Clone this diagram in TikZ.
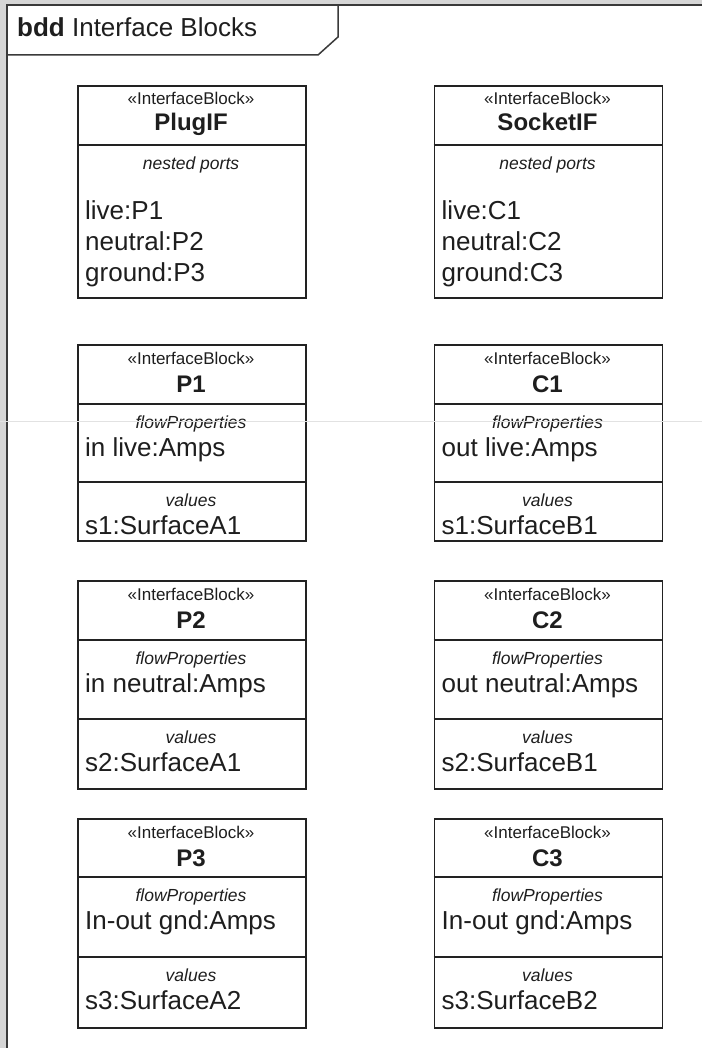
\documentclass[tikz,border=0pt]{standalone}
\usepackage{fontspec}
\setmainfont{Liberation Sans}
\definecolor{bandc}{HTML}{D6D6D6}
\definecolor{linec}{HTML}{222222}
\definecolor{framec}{HTML}{3A3A3A}
\definecolor{txtc}{HTML}{1E1E1E}
\definecolor{artc}{HTML}{E2E2E2}
\tikzset{
  blk/.style={draw=linec, line width=1.6pt, fill=white, inner sep=0pt, anchor=north west, minimum width=228pt},
  sepl/.style={draw=linec, line width=1.6pt},
  stereo/.style={font=\fontsize{17}{20}\selectfont, anchor=base, text=txtc, inner sep=0pt},
  bname/.style={font=\fontsize{24}{28}\selectfont\bfseries, anchor=base, text=txtc, inner sep=0pt},
  clabel/.style={font=\fontsize{17.5}{20}\selectfont\itshape, anchor=base, text=txtc, inner sep=0pt},
  body/.style={font=\fontsize{26}{31}\selectfont, anchor=base west, text=txtc, inner sep=0pt},
  framel/.style={draw=framec, line width=1.5pt},
}
% #1 id, #2 x, #3 top, #4 sep, #5 bottom, #6 title, #7 l1, #8 l2, #9 l3
\newcommand\nestblock[9]{%
  \pgfmathsetmacro\bh{#5-#3}%
  \node[blk, minimum height=\bh pt] (#1) at (#2,#3) {};
  \draw[sepl] (#1.west |- 0,#4) -- (#1.east |- 0,#4);
  \node[stereo] (#1-st) at ({#2+114},{#3+20}) {«InterfaceBlock»};
  \node[bname] (#1-nm) at ({#2+114},{#3+46}) {#6};
  \node[clabel] (#1-cl) at ({#2+114},{#4+24.5}) {nested ports};
  \node[body] (#1-a) at ({#2+8},{#4+75}) {#7};
  \node[body] (#1-b) at ({#2+8},{#4+106}) {#8};
  \node[body] (#1-c) at ({#2+8},{#4+136.5}) {#9};
}
% #1 id, #2 x, #3 top, #4 sep1, #5 sep2, #6 bottom, #7 title, #8 flow, #9 value
\newcommand\flowblock[9]{%
  \pgfmathsetmacro\bh{#6-#3}%
  \node[blk, minimum height=\bh pt] (#1) at (#2,#3) {};
  \draw[sepl] (#1.west |- 0,#4) -- (#1.east |- 0,#4);
  \draw[sepl] (#1.west |- 0,#5) -- (#1.east |- 0,#5);
  \node[stereo] (#1-st) at ({#2+114},{#3+20}) {«InterfaceBlock»};
  \node[bname] (#1-nm) at ({#2+114},{#3+48}) {#7};
  \node[clabel] (#1-fl) at ({#2+114},{#4+24}) {flowProperties};
  \node[body] (#1-f) at ({#2+8},{#4+52.5}) {#8};
  \node[clabel] (#1-vl) at ({#2+114},{#5+24}) {values};
  \node[body] (#1-v) at ({#2+8},{#5+52.5}) {#9};
}
\begin{document}
\begin{tikzpicture}[x=1pt, y=-1pt]
  \useasboundingbox (0,0) rectangle (702,1048);
  % background band and frame
  \fill[bandc] (0,0) rectangle (702,1048);
  \fill[white] (7,5) rectangle (702,1048);
  \draw[framel] (7,1048) -- (7,5) -- (702,5);
  \draw[framel] (7,55) -- (318,55) -- (338,37) -- (338,5);
  \node[anchor=base west, inner sep=0pt, text=txtc, font=\fontsize{26}{31}\selectfont] (title) at (17,37)
    {\textbf{bdd} Interface Blocks};
  % row 1
  \nestblock{plugif}{77}{85}{145}{297}{PlugIF}{live:P1}{neutral:P2}{ground:P3}
  \nestblock{socketif}{433.5}{85}{145}{297}{SocketIF}{live:C1}{neutral:C2}{ground:C3}
  % row 2
  \flowblock{p1}{77}{344}{404}{482}{540}{P1}{in live:Amps}{s1:SurfaceA1}
  \flowblock{c1}{433.5}{344}{404}{482}{540}{C1}{out live:Amps}{s1:SurfaceB1}
  % row 3
  \flowblock{p2}{77}{580}{640}{719}{788}{P2}{in neutral:Amps}{s2:SurfaceA1}
  \flowblock{c2}{433.5}{580}{640}{719}{788}{C2}{out neutral:Amps}{s2:SurfaceB1}
  % row 4
  \flowblock{p3}{77}{818}{877}{957}{1027}{P3}{In-out gnd:Amps}{s3:SurfaceA2}
  \flowblock{c3}{433.5}{818}{877}{957}{1027}{C3}{In-out gnd:Amps}{s3:SurfaceB2}
  % faint screen artefact line
  \draw[artc, line width=0.8pt] (0,421) -- (702,421);
\end{tikzpicture}
\end{document}
